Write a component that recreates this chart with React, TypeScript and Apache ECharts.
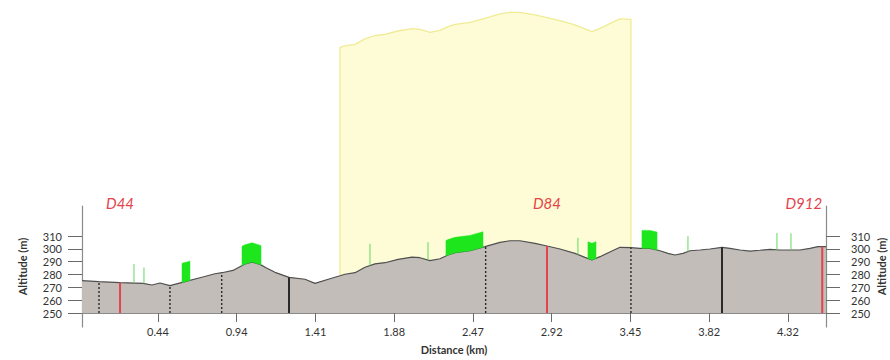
import React, { useEffect, useRef } from "react";
import * as echarts from "echarts";

// ---- Data -------------------------------------------------------------
// Position along the profile (axis units) and altitude (m) of the terrain line
const PROFILE_X = [
  0.0, 0.216, 0.483, 0.775, 0.889, 0.99, 1.117, 1.308, 1.498, 1.689, 1.778, 1.917,
  2.07, 2.159, 2.26, 2.337, 2.451, 2.629, 2.832, 2.959, 3.149, 3.276, 3.34, 3.467,
  3.594, 3.721, 3.848, 4.013, 4.19, 4.292, 4.419, 4.546, 4.648, 4.737, 4.927, 5.117,
  5.308, 5.435, 5.562, 5.752, 5.905, 6.07, 6.26, 6.387, 6.476, 6.578, 6.73, 6.832,
  6.971, 7.086, 7.213, 7.34, 7.441, 7.53, 7.632, 7.721, 7.848, 7.975, 8.127, 8.229,
  8.356, 8.483, 8.61, 8.737, 8.863, 8.99, 9.117, 9.244, 9.346, 9.448,
];
const PROFILE_ALT = [
  275.2, 274.4, 273.6, 273.1, 271.8, 273.4, 271.3, 274.4, 277.5, 280.6, 281.4, 283.2,
  288.2, 289.7, 287.9, 285.3, 281.7, 277.8, 276.3, 273.1, 276.7, 279.0, 280.2, 281.4,
  285.7, 288.3, 289.2, 291.8, 293.6, 293.1, 290.8, 292.3, 295.2, 297.0, 298.5, 301.7,
  305.1, 306.3, 306.3, 304.3, 302.2, 299.9, 296.5, 293.4, 291.3, 293.9, 298.3, 301.2,
  300.9, 300.4, 300.4, 298.5, 296.5, 295.2, 296.5, 298.5, 299.1, 299.9, 301.2, 300.4,
  299.1, 298.3, 298.9, 299.6, 299.1, 299.1, 299.1, 300.4, 301.7, 301.7,
];

// Distance axis
const X_MAX = 9.448;
const TICK_POS = [0.965, 1.965, 2.965, 3.965, 4.965, 5.965, 6.965, 7.965, 8.965];
const TICK_LABELS = ["0.44", "0.94", "1.41", "1.88", "2.47", "2.92", "3.45", "3.82", "4.32"];

// Altitude axis
const Y_MIN = 250;
const Y_MAX = 333.4;
const ALT_TICKS = [250, 260, 270, 280, 290, 300, 310];

// Vertical markers (crossings)
const MARKER_X = [0.216, 0.483, 1.117, 1.774, 2.629, 5.126, 5.905, 6.971, 8.127, 9.4];
const MARKER_KIND = ["dotted", "road", "dotted", "dotted", "solid", "dotted", "road", "dotted", "solid", "road"];
const MARKER_LABEL = ["", "D44", "", "", "", "", "D84", "", "", "D912"];
const MARKER_LABEL_ALIGN = ["", "center", "", "", "", "", "center", "", "", "right"];

// Isolated trees (position, height m)
const TREE_X = [0.66, 0.787, 3.657, 4.394, 6.298, 7.695, 8.825, 9.003];
const TREE_H = [15, 12.5, 17, 14, 13, 12, 13, 13];

// Wooded stretches (start, end, height m)
const WOOD_START = [1.27, 2.032, 4.622, 6.425, 7.111];
const WOOD_END = [1.371, 2.273, 5.092, 6.527, 7.302];
const WOOD_H = [15, 15, 12, 13, 14];

// Highlighted stretch (drawn on a lifted scale)
const HIGHLIGHT_START = 3.276;
const HIGHLIGHT_END = 6.971;
const HIGHLIGHT_LIFT = 178;

// ---- Helpers ----------------------------------------------------------
function altAt(x: number): number {
  if (x <= PROFILE_X[0]) return PROFILE_ALT[0];
  for (let i = 1; i < PROFILE_X.length; i++) {
    if (x <= PROFILE_X[i]) {
      const t = (x - PROFILE_X[i - 1]) / (PROFILE_X[i] - PROFILE_X[i - 1]);
      return PROFILE_ALT[i - 1] + t * (PROFILE_ALT[i] - PROFILE_ALT[i - 1]);
    }
  }
  return PROFILE_ALT[PROFILE_ALT.length - 1];
}

const FONT = "Lato, 'Open Sans', sans-serif";
const TEXT = "#333333";
const AXIS = "#8a8a8a";
const ROAD_RED = "#e5434b";

function buildOption(): any {
  const grid0Top = 0;
  const gridBottom = 47;
  const plotH = 360 - gridBottom - 206;
  const yellowH = 360 - gridBottom - grid0Top;
  const yellowMin = Y_MIN - HIGHLIGHT_LIFT;
  const yellowMax = yellowMin + ((Y_MAX - Y_MIN) * yellowH) / plotH;

  const profile = PROFILE_X.map((x, i) => [x, PROFILE_ALT[i]]);
  const highlight: number[][] = [[HIGHLIGHT_START, yellowMin]];
  PROFILE_X.forEach((x, i) => {
    if (x >= HIGHLIGHT_START && x <= HIGHLIGHT_END) highlight.push([x, PROFILE_ALT[i]]);
  });
  highlight.push([HIGHLIGHT_END, yellowMin]);

  const xLabel = (v: number) => {
    const i = TICK_POS.findIndex((t) => Math.abs(t - v) < 1e-6);
    return i >= 0 ? TICK_LABELS[i] : "";
  };

  const altAxisBase = {
    gridIndex: 1,
    type: "value",
    min: Y_MIN,
    max: Y_MAX,
    axisLine: { show: false, onZero: false },
    axisTick: { show: true, inside: false, length: 14, customValues: ALT_TICKS, lineStyle: { color: "#6a6a6a", width: 1 } },
    splitLine: { show: false },
  };
  const lineAxisBase = {
    gridIndex: 2,
    type: "value",
    min: 0,
    max: 1,
    axisLine: { show: true, onZero: false, lineStyle: { color: AXIS, width: 1.2 } },
    axisTick: { show: false },
    axisLabel: { show: false },
    splitLine: { show: false },
    name: "Altitude (m)",
    nameLocation: "middle",
    nameRotate: 90,
    nameMoveOverlap: false,
    nameTextStyle: { fontFamily: FONT, fontWeight: "bold", fontSize: 11, color: TEXT },
  };

  return {
    animation: false,
    backgroundColor: "#ffffff",
    textStyle: { fontFamily: FONT },
    grid: [
      { left: 82, right: 64, top: grid0Top, bottom: gridBottom, containLabel: false, outerBoundsMode: "none" },
      { left: 82, right: 64, top: 206, bottom: gridBottom, containLabel: false, outerBoundsMode: "none" },
      { left: 82, right: 64, top: 206, bottom: 33, containLabel: false, outerBoundsMode: "none" },
    ],
    xAxis: [
      { gridIndex: 0, type: "value", min: 0, max: X_MAX, show: false },
      {
        gridIndex: 1,
        type: "value",
        min: 0,
        max: X_MAX,
        position: "bottom",
        axisLine: { show: true, onZero: false, lineStyle: { color: AXIS, width: 1 } },
        axisTick: { show: true, length: 9, customValues: TICK_POS, lineStyle: { color: "#6a6a6a", width: 1 } },
        axisLabel: { customValues: TICK_POS, formatter: xLabel, margin: 13, color: TEXT, fontSize: 11, fontFamily: FONT },
        splitLine: { show: false },
        name: "Distance (km)",
        nameLocation: "middle",
        nameGap: 31,
        nameMoveOverlap: false,
        nameTextStyle: { fontFamily: FONT, fontWeight: "bold", fontSize: 11, color: TEXT },
      },
      { gridIndex: 2, type: "value", min: 0, max: 1, show: false },
    ],
    yAxis: [
      { gridIndex: 0, type: "value", min: yellowMin, max: yellowMax, show: false },
      {
        ...altAxisBase,
        position: "left",
        axisLabel: { customValues: ALT_TICKS, margin: 20, color: TEXT, fontSize: 11, fontFamily: FONT },
      },
      {
        ...altAxisBase,
        position: "right",
        axisLabel: { customValues: ALT_TICKS, margin: 25, color: TEXT, fontSize: 11, fontFamily: FONT },
      },
      { ...lineAxisBase, position: "left", nameGap: 54 },
      { ...lineAxisBase, position: "right", nameGap: 50 },
    ],
    series: [
      {
        name: "highlight",
        type: "line",
        xAxisIndex: 0,
        yAxisIndex: 0,
        data: highlight,
        symbol: "none",
        silent: true,
        z: 1,
        lineStyle: { color: "#f1eb95", width: 1.3 },
        areaStyle: { color: "#fdfcd6", opacity: 1, origin: "start" },
      },
      {
        name: "terrain",
        type: "line",
        xAxisIndex: 1,
        yAxisIndex: 1,
        data: profile,
        symbol: "none",
        silent: true,
        z: 2,
        lineStyle: { color: "#4f4f4f", width: 1.2 },
        areaStyle: { color: "#c2bdb9", opacity: 1, origin: "start" },
      },
      {
        name: "woods",
        type: "custom",
        coordinateSystem: "cartesian2d",
        xAxisIndex: 1,
        yAxisIndex: 1,
        z: 3,
        silent: true,
        data: WOOD_START.map((x, i) => [x, Y_MIN, i]),
        encode: { x: 0, y: 1 },
        renderItem: (_params: any, api: any) => {
          const i = api.value(2);
          const x0 = WOOD_START[i];
          const x1 = WOOD_END[i];
          const h = WOOD_H[i];
          const xs = [x0, ...PROFILE_X.filter((x) => x > x0 && x < x1), x1];
          const bottom = xs.map((x) => api.coord([x, altAt(x)]));
          const top = xs.slice().reverse().map((x) => api.coord([x, altAt(x) + h]));
          return {
            type: "polygon",
            shape: { points: [...bottom, ...top] },
            style: { fill: "#1de61d", stroke: "#1de61d", lineWidth: 0.5 },
          };
        },
      },
      {
        name: "trees",
        type: "custom",
        coordinateSystem: "cartesian2d",
        xAxisIndex: 1,
        yAxisIndex: 1,
        z: 3,
        silent: true,
        data: TREE_X.map((x, i) => [x, Y_MIN, i]),
        encode: { x: 0, y: 1 },
        renderItem: (_params: any, api: any) => {
          const i = api.value(2);
          const x = TREE_X[i];
          const a = api.coord([x, altAt(x)]);
          const b = api.coord([x, altAt(x) + TREE_H[i]]);
          return {
            type: "line",
            shape: { x1: a[0], y1: a[1], x2: b[0], y2: b[1] },
            style: { stroke: "#62d862", lineWidth: 1 },
          };
        },
      },
      {
        name: "markers",
        type: "custom",
        coordinateSystem: "cartesian2d",
        xAxisIndex: 1,
        yAxisIndex: 1,
        z: 4,
        silent: true,
        data: MARKER_X.map((x, i) => [x, Y_MIN, i]),
        encode: { x: 0, y: 1 },
        renderItem: (_params: any, api: any) => {
          const i = api.value(2);
          const x = MARKER_X[i];
          const kind = MARKER_KIND[i];
          const a = api.coord([x, Y_MIN]);
          const b = api.coord([x, altAt(x)]);
          const color = kind === "road" ? ROAD_RED : "#2a2a2a";
          const children: any[] = [
            {
              type: "line",
              shape: { x1: a[0], y1: a[1], x2: b[0], y2: b[1] },
              style: {
                stroke: color,
                lineWidth: kind === "dotted" ? 1.4 : 2,
                lineDash: kind === "dotted" ? [2, 2] : null,
              },
            },
          ];
          if (MARKER_LABEL[i]) {
            const t = api.coord([x, Y_MAX]);
            children.push({
              type: "text",
              x: t[0],
              y: t[1] - 3,
              style: {
                text: MARKER_LABEL[i],
                fill: ROAD_RED,
                fontFamily: FONT,
                fontStyle: "italic",
                fontSize: 15,
                align: MARKER_LABEL_ALIGN[i],
                verticalAlign: "middle",
              },
            });
          }
          return { type: "group", children };
        },
      },
    ],
  };
}

export default function App() {
  const ref = useRef<HTMLDivElement>(null);
  useEffect(() => {
    if (!ref.current) return;
    const chart = echarts.init(ref.current, null, { renderer: "svg" });
    chart.setOption(buildOption());
    return () => chart.dispose();
  }, []);
  return (
    <div
      ref={ref}
      style={{ position: "fixed", left: 0, top: 0, width: 890, height: 360, background: "#ffffff" }}
    />
  );
}
